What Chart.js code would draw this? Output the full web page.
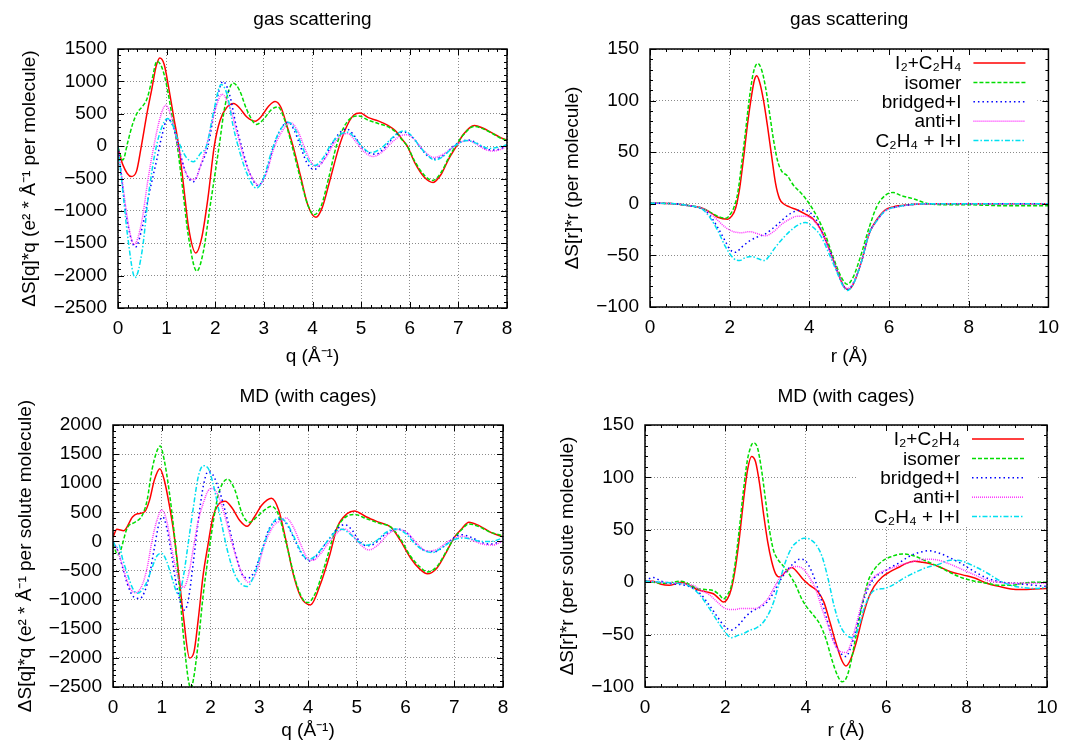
<!DOCTYPE html>
<html>
<head>
<meta charset="utf-8">
<script src="https://cdn.jsdelivr.net/npm/chart.js@4.4.1/dist/chart.umd.min.js"></script>
<style>
  body { margin: 0; background: #fff; }
  #wrap { position: relative; width: 1068px; height: 744px; }
  canvas { position: absolute; }
</style>
</head>
<body>
<div id="wrap">
  <canvas id="gas-q" width="534" height="372" style="left:0;top:0"></canvas>
  <canvas id="gas-r" width="534" height="372" style="left:534px;top:0"></canvas>
  <canvas id="md-q" width="534" height="372" style="left:0;top:372px"></canvas>
  <canvas id="md-r" width="534" height="372" style="left:534px;top:372px"></canvas>
</div>
<script>
// series names (legend order)
const seriesLabels = ["I₂+C₂H₄", "isomer", "bridged+I", "anti+I", "C₂H₄ + I+I"];

// tick labels
const qTicks = [0, 1, 2, 3, 4, 5, 6, 7, 8];
const rTicks = [0, 2, 4, 6, 8, 10];
const gasQTicks = [-2500, -2000, -1500, -1000, -500, 0, 500, 1000, 1500];
const mdQTicks = [-2500, -2000, -1500, -1000, -500, 0, 500, 1000, 1500, 2000];
const rValueTicks = [-100, -50, 0, 50, 100, 150];

// gas scattering, q space: [q, ΔS*q]
const gasQ_i2c2h4 = [[0,-30],[0.1,-290],[0.27,-470],[0.38,-390],[0.48,0],[0.6,520],[0.7,900],[0.78,1220],[0.86,1360],[0.95,1260],[1.05,870],[1.15,430],[1.25,0],[1.35,-620],[1.45,-1250],[1.6,-1650],[1.72,-1420],[1.85,-800],[1.98,0],[2.1,400],[2.25,610],[2.38,660],[2.5,590],[2.65,450],[2.82,385],[2.95,460],[3.1,620],[3.23,690],[3.35,600],[3.48,300],[3.6,0],[3.75,-450],[3.9,-900],[4.07,-1100],[4.2,-950],[4.35,-550],[4.55,0],[4.7,300],[4.85,480],[4.98,510],[5.15,440],[5.35,390],[5.55,320],[5.7,240],[5.85,100],[5.95,0],[6.1,-250],[6.3,-480],[6.48,-560],[6.65,-430],[6.8,-200],[6.96,0],[7.1,180],[7.33,320],[7.5,280],[7.7,200],[7.85,140],[8,90]];
const gasQ_isomer = [[0,-20],[0.1,-215],[0.2,60],[0.3,340],[0.4,520],[0.5,610],[0.6,740],[0.7,1030],[0.8,1310],[0.9,1220],[1.0,940],[1.1,520],[1.22,0],[1.32,-600],[1.45,-1400],[1.62,-1930],[1.75,-1650],[1.9,-900],[2.08,0],[2.2,620],[2.37,975],[2.5,860],[2.65,560],[2.85,335],[3.0,420],[3.15,560],[3.29,605],[3.42,420],[3.58,0],[3.75,-500],[3.9,-900],[4.03,-1060],[4.18,-920],[4.33,-500],[4.49,0],[4.65,300],[4.8,440],[4.95,465],[5.15,400],[5.35,350],[5.55,300],[5.7,225],[5.85,90],[5.95,0],[6.1,-230],[6.3,-450],[6.47,-530],[6.65,-400],[6.8,-180],[6.94,0],[7.1,170],[7.32,305],[7.5,270],[7.7,195],[7.85,130],[8,85]];
const gasQ_bridged = [[0,0],[0.1,-650],[0.2,-1200],[0.36,-1560],[0.5,-1250],[0.65,-700],[0.8,-200],[0.9,150],[1.02,420],[1.12,330],[1.24,0],[1.4,-420],[1.55,-550],[1.7,-300],[1.85,0],[2.0,600],[2.16,1000],[2.3,780],[2.42,350],[2.54,0],[2.7,-400],[2.88,-610],[3.05,-400],[3.2,0],[3.35,270],[3.5,370],[3.62,250],[3.75,0],[3.88,-250],[4.03,-360],[4.2,-250],[4.38,0],[4.55,200],[4.7,265],[4.85,170],[5.0,0],[5.15,-100],[5.3,-125],[5.45,-50],[5.6,80],[5.75,190],[5.9,215],[6.05,140],[6.2,0],[6.35,-140],[6.52,-200],[6.7,-140],[6.9,0],[7.05,70],[7.2,95],[7.35,60],[7.55,-40],[7.75,-60],[7.9,-30],[8,5]];
const gasQ_anti = [[0,0],[0.1,-600],[0.2,-1150],[0.33,-1520],[0.48,-1200],[0.62,-500],[0.75,50],[0.87,450],[0.98,630],[1.1,450],[1.25,-50],[1.4,-420],[1.57,-520],[1.72,-250],[1.85,100],[2.0,560],[2.14,800],[2.3,600],[2.45,200],[2.6,-200],[2.75,-480],[2.9,-600],[3.05,-420],[3.2,-50],[3.35,200],[3.55,360],[3.7,230],[3.85,-50],[4.0,-280],[4.1,-310],[4.25,-200],[4.45,50],[4.6,170],[4.72,195],[4.9,60],[5.05,-80],[5.25,-160],[5.45,-80],[5.65,70],[5.85,170],[5.95,175],[6.1,100],[6.3,-80],[6.5,-175],[6.7,-120],[6.9,-10],[7.05,60],[7.2,85],[7.35,40],[7.55,-50],[7.7,-75],[7.9,-40],[8,10]];
const gasQ_c2h4ii = [[0,0],[0.1,-700],[0.2,-1400],[0.35,-2030],[0.5,-1600],[0.62,-800],[0.75,-150],[0.88,250],[1.02,425],[1.12,330],[1.25,60],[1.4,-170],[1.55,-240],[1.7,-110],[1.82,0],[1.97,550],[2.12,950],[2.25,780],[2.37,300],[2.47,0],[2.65,-420],[2.85,-650],[3.0,-480],[3.15,-100],[3.3,200],[3.5,370],[3.65,250],[3.8,-30],[3.95,-260],[4.05,-300],[4.2,-200],[4.4,50],[4.55,170],[4.72,215],[4.9,100],[5.05,-30],[5.2,-100],[5.4,-40],[5.6,100],[5.75,200],[5.88,235],[6.05,150],[6.2,0],[6.35,-130],[6.52,-215],[6.7,-150],[6.9,-10],[7.05,60],[7.18,85],[7.35,50],[7.55,-20],[7.65,-35],[7.85,-10],[8,20]];

// gas scattering, r space: [r, ΔS*r]
const gasR_i2c2h4 = [[0,0.5],[0.5,0.3],[1.0,-2],[1.3,-4],[1.5,-8],[1.7,-13],[1.95,-15],[2.05,-12],[2.15,-4],[2.25,15],[2.35,45],[2.45,78],[2.55,105],[2.62,120],[2.68,124],[2.75,118],[2.85,100],[2.95,75],[3.05,47],[3.15,20],[3.25,5],[3.35,0],[3.5,-3],[3.7,-6],[3.9,-10],[4.1,-15],[4.3,-26],[4.5,-44],[4.7,-65],[4.85,-79],[4.97,-83],[5.1,-78],[5.3,-57],[5.5,-29],[5.7,-15],[5.9,-6],[6.1,-3],[6.5,-1],[7,0],[8,0],[9,0],[10,0]];
const gasR_isomer = [[0,0.5],[0.5,0.3],[1.0,-2],[1.3,-4],[1.5,-8],[1.7,-12],[1.9,-14],[2.0,-11],[2.1,-4],[2.2,10],[2.3,39],[2.4,71],[2.5,104],[2.6,128],[2.7,136],[2.8,130],[2.9,113],[3.0,88],[3.1,62],[3.2,42],[3.3,32],[3.45,27],[3.6,18],[3.8,10],[4.0,0],[4.2,-13],[4.4,-30],[4.6,-52],[4.8,-71],[4.95,-78],[5.1,-71],[5.3,-49],[5.5,-23],[5.7,-2],[5.9,8],[6.1,11],[6.3,8],[6.6,5],[7.0,0],[7.5,-1],[8,-1],[9,-2],[10,-2]];
const gasR_bridged = [[0,0.5],[0.5,0.3],[1.0,-2],[1.3,-5],[1.5,-11],[1.7,-23],[1.9,-37],[2.0,-44],[2.15,-47],[2.3,-42],[2.5,-36],[2.7,-32],[2.9,-29],[3.2,-20],[3.5,-10],[3.8,-6],[4.0,-8],[4.15,-14],[4.3,-26],[4.5,-44],[4.7,-65],[4.85,-79],[4.95,-83],[5.1,-77],[5.3,-57],[5.5,-29],[5.7,-16],[5.9,-7],[6.2,-3],[7,0],[8,0],[10,0]];
const gasR_anti = [[0,0.5],[0.5,0.3],[1.0,-2],[1.3,-4],[1.5,-9],[1.7,-16],[1.9,-23],[2.1,-27],[2.3,-28],[2.5,-27],[2.7,-29],[2.9,-31],[3.1,-27],[3.3,-20],[3.5,-15],[3.7,-12],[3.9,-12],[4.1,-16],[4.3,-27],[4.5,-45],[4.7,-65],[4.85,-79],[4.95,-82],[5.1,-77],[5.3,-57],[5.5,-29],[5.7,-16],[5.9,-7],[6.2,-3],[7,0],[8,0],[10,0]];
const gasR_c2h4ii = [[0,0.5],[0.5,0.3],[1.0,-2],[1.3,-5],[1.5,-13],[1.7,-26],[1.9,-42],[2.1,-53],[2.25,-55],[2.4,-52],[2.55,-51],[2.7,-53],[2.88,-55],[3.0,-50],[3.15,-42],[3.3,-35],[3.5,-27],[3.7,-21],[3.9,-18],[4.1,-23],[4.3,-32],[4.5,-49],[4.7,-67],[4.85,-80],[4.95,-84],[5.1,-78],[5.3,-57],[5.5,-29],[5.7,-16],[5.9,-7],[6.2,-3],[7,0],[8,0],[10,0]];

// MD with cages, q space
const mdQ_i2c2h4 = [[0,70],[0.08,210],[0.22,185],[0.4,420],[0.5,475],[0.65,510],[0.75,710],[0.85,1060],[0.96,1250],[1.05,1060],[1.15,650],[1.25,130],[1.35,-570],[1.45,-1330],[1.57,-2000],[1.66,-1900],[1.75,-1330],[1.85,-570],[1.95,-50],[2.05,420],[2.15,620],[2.3,690],[2.45,565],[2.6,360],[2.75,260],[2.9,420],[3.05,620],[3.25,740],[3.4,535],[3.55,10],[3.7,-570],[3.85,-950],[4.05,-1090],[4.25,-745],[4.45,-220],[4.6,245],[4.8,475],[4.95,525],[5.2,420],[5.45,330],[5.7,245],[5.9,10],[6.1,-280],[6.3,-480],[6.45,-555],[6.65,-450],[6.85,-165],[7.0,70],[7.15,215],[7.3,330],[7.5,275],[7.75,155],[8,80]];
const mdQ_isomer = [[0,-40],[0.1,-230],[0.3,245],[0.45,330],[0.6,450],[0.7,710],[0.8,1230],[0.9,1550],[0.97,1640],[1.05,1400],[1.15,880],[1.25,185],[1.35,-690],[1.45,-1670],[1.55,-2400],[1.6,-2520],[1.65,-2370],[1.75,-1730],[1.85,-920],[1.95,-280],[2.05,300],[2.15,770],[2.25,1000],[2.35,1070],[2.5,885],[2.65,475],[2.8,330],[2.95,420],[3.1,535],[3.25,605],[3.4,450],[3.55,-20],[3.75,-690],[3.9,-1000],[4.0,-1050],[4.15,-890],[4.35,-395],[4.55,155],[4.75,405],[4.95,465],[5.2,390],[5.45,315],[5.7,245],[5.9,40],[6.1,-250],[6.3,-440],[6.45,-525],[6.65,-425],[6.85,-150],[7.0,60],[7.15,200],[7.3,300],[7.5,255],[7.75,155],[8,100]];
const mdQ_bridged = [[0,0],[0.1,-165],[0.2,-455],[0.3,-745],[0.42,-950],[0.55,-980],[0.65,-860],[0.75,-570],[0.85,-105],[0.95,330],[1.02,420],[1.1,245],[1.2,-220],[1.3,-745],[1.4,-1090],[1.47,-1180],[1.55,-980],[1.65,-340],[1.75,360],[1.85,940],[1.95,1200],[2.05,1145],[2.2,825],[2.35,360],[2.5,-165],[2.65,-570],[2.78,-630],[2.9,-510],[3.05,-165],[3.2,215],[3.35,360],[3.45,390],[3.6,245],[3.75,-15],[3.9,-250],[4.05,-335],[4.2,-220],[4.4,10],[4.6,215],[4.75,290],[4.9,200],[5.05,10],[5.2,-75],[5.35,-45],[5.55,100],[5.75,200],[5.88,210],[6.05,130],[6.25,-75],[6.45,-170],[6.6,-175],[6.8,-75],[7.0,70],[7.15,115],[7.35,70],[7.55,-15],[7.75,-45],[8,10]];
const mdQ_anti = [[0,0],[0.1,-170],[0.2,-430],[0.3,-700],[0.4,-860],[0.47,-880],[0.6,-745],[0.7,-455],[0.8,10],[0.9,360],[1.0,540],[1.1,360],[1.2,-105],[1.3,-510],[1.4,-745],[1.45,-790],[1.55,-570],[1.65,-105],[1.75,360],[1.85,650],[1.95,870],[2.05,910],[2.15,800],[2.3,420],[2.45,-50],[2.6,-455],[2.78,-700],[2.95,-510],[3.1,-75],[3.3,275],[3.45,360],[3.55,405],[3.7,245],[3.85,-50],[4.0,-300],[4.1,-325],[4.25,-220],[4.45,10],[4.65,185],[4.75,215],[4.95,70],[5.1,-75],[5.25,-145],[5.45,-50],[5.65,130],[5.85,205],[6.05,140],[6.25,-50],[6.45,-165],[6.65,-135],[6.85,-15],[7.05,70],[7.2,85],[7.4,10],[7.6,-50],[7.8,-60],[8,10]];
const mdQ_c2h4ii = [[0,0],[0.08,-105],[0.12,-60],[0.2,-310],[0.3,-570],[0.4,-800],[0.5,-890],[0.6,-830],[0.7,-685],[0.8,-455],[0.9,-250],[1.0,-205],[1.1,-340],[1.2,-600],[1.3,-860],[1.35,-920],[1.45,-570],[1.55,10],[1.65,595],[1.75,1115],[1.85,1300],[1.95,1260],[2.05,1000],[2.2,420],[2.35,-165],[2.5,-570],[2.65,-745],[2.75,-775],[2.9,-570],[3.05,-165],[3.25,275],[3.4,405],[3.55,330],[3.7,100],[3.85,-165],[4.0,-310],[4.15,-250],[4.35,-45],[4.55,155],[4.7,210],[4.9,100],[5.05,-15],[5.2,-65],[5.4,10],[5.6,155],[5.8,215],[6.0,140],[6.2,-45],[6.4,-165],[6.55,-190],[6.75,-105],[6.95,10],[7.15,60],[7.35,40],[7.55,0],[7.75,0],[8,60]];

// MD with cages, r space
const mdR_i2c2h4 = [[0,1],[0.2,1],[0.4,-2],[0.6,-3],[0.8,-1],[0.9,0],[1.1,-3],[1.3,-7],[1.5,-9],[1.7,-11],[1.85,-16],[1.95,-19],[2.05,-16],[2.15,-6],[2.25,14],[2.35,43],[2.45,78],[2.55,107],[2.65,120],[2.75,115],[2.85,94],[2.95,65],[3.05,39],[3.15,20],[3.25,8],[3.35,5],[3.5,10],[3.65,14],[3.8,9],[3.95,2],[4.1,-3],[4.3,-9],[4.45,-19],[4.6,-38],[4.75,-58],[4.9,-75],[5.0,-80],[5.1,-75],[5.25,-58],[5.4,-35],[5.55,-16],[5.7,-4],[5.9,5],[6.1,10],[6.3,14],[6.5,18],[6.7,20],[6.9,19],[7.1,17.5],[7.3,15],[7.6,10],[7.9,7],[8.2,4],[8.5,-1],[8.8,-4],[9.1,-6.5],[9.4,-7],[9.7,-6.5],[10,-6]];
const mdR_isomer = [[0,1],[0.5,-1],[0.9,1],[1.1,-2],[1.3,-6],[1.5,-7],[1.7,-8],[1.85,-12],[1.95,-16],[2.05,-12],[2.15,-3],[2.25,20],[2.35,52],[2.45,88],[2.55,117],[2.65,131],[2.7,133],[2.8,128],[2.9,107],[3.0,78],[3.1,49],[3.2,30],[3.3,22],[3.45,15],[3.6,7],[3.75,-3],[3.9,-16],[4.05,-25],[4.2,-32],[4.35,-40],[4.5,-54],[4.65,-74],[4.8,-90],[4.9,-95],[5.0,-92],[5.1,-80],[5.25,-51],[5.4,-22],[5.55,1],[5.7,12],[5.9,20],[6.1,24],[6.4,27],[6.7,25],[7.0,20],[7.3,15],[7.6,9],[7.9,4],[8.2,1],[8.5,-1],[8.8,-3],[9.1,-3],[9.4,-1],[9.7,0],[10,0]];
const mdR_bridged = [[0,1],[0.2,4.5],[0.4,1],[0.6,-1],[0.8,-2],[1.0,-3],[1.2,-6],[1.4,-12],[1.6,-22],[1.8,-33],[2.0,-43],[2.15,-45.5],[2.35,-40],[2.5,-33],[2.65,-28],[2.8,-25],[2.95,-22],[3.1,-16],[3.25,-6],[3.4,4],[3.55,12],[3.7,18],[3.85,22],[4.0,20],[4.15,10],[4.3,-6],[4.45,-25],[4.6,-45],[4.75,-61],[4.9,-69],[5.0,-71],[5.1,-64],[5.25,-45],[5.4,-22],[5.55,-6],[5.7,4],[5.9,9],[6.1,14],[6.3,18],[6.5,23],[6.7,27],[6.9,29],[7.05,30],[7.3,28],[7.6,23],[7.9,17],[8.2,10],[8.5,4],[8.8,0.6],[9.1,-1],[9.4,-2],[9.7,-3],[10,-4]];
const mdR_anti = [[0,1],[0.4,0],[0.8,-1],[1.0,-2],[1.2,-3],[1.4,-8],[1.6,-12],[1.8,-19],[1.95,-24],[2.1,-26],[2.25,-26],[2.4,-25],[2.55,-25],[2.75,-25],[2.9,-22],[3.05,-16],[3.2,-6],[3.35,4],[3.5,10],[3.65,14],[3.8,15],[3.95,12],[4.1,4],[4.25,-7],[4.4,-25],[4.55,-41],[4.7,-58],[4.85,-66],[5.0,-67],[5.1,-61],[5.25,-41],[5.4,-19],[5.55,-3],[5.7,5],[5.9,10],[6.1,13],[6.4,17],[6.7,20],[7.0,22],[7.3,21],[7.6,17],[7.9,12],[8.2,7],[8.5,2],[8.8,0],[9.1,-1],[9.4,-1],[9.7,-1],[10,-1]];
const mdR_c2h4ii = [[0,1],[0.4,0],[0.8,-1],[1.0,-2],[1.2,-6],[1.4,-14],[1.6,-25],[1.8,-37],[2.0,-48],[2.15,-53],[2.3,-51],[2.45,-49],[2.6,-46],[2.75,-44],[2.9,-40],[3.05,-32],[3.2,-19],[3.35,1],[3.5,20],[3.65,33],[3.8,39],[3.95,42],[4.1,41],[4.25,36],[4.4,25],[4.55,4],[4.7,-22],[4.85,-41],[5.0,-50],[5.15,-53],[5.3,-45],[5.45,-25],[5.6,-12],[5.75,-7],[5.95,-6],[6.15,-3],[6.4,3],[6.7,9],[7.0,14],[7.3,17],[7.6,21],[7.9,20],[8.2,15],[8.5,9],[8.8,2],[9.1,-3],[9.4,-5],[9.7,-6],[10,-5]];

const FONT = '"Liberation Sans", Arial, Helvetica, sans-serif';
const FONT_SIZE = 19;
Chart.defaults.font.family = FONT;
Chart.defaults.font.size = FONT_SIZE;
Chart.defaults.color = '#000';

// gnuplot-like line types
const seriesStyles = [
  { color: '#ff0000', dash: [] },
  { color: '#00dd00', dash: [4, 2] },
  { color: '#0000ff', dash: [1.5, 3] },
  { color: '#ff33ff', dash: [1, 1] },
  { color: '#00e0f0', dash: [5, 2, 1.5, 2] }
];

// inward major/minor tics on all four sides, then the frame
const frameTicks = {
  id: 'frameTicks',
  afterDraw(chart) {
    const { ctx, chartArea: a } = chart;
    ctx.save();
    ctx.strokeStyle = '#000';
    ctx.lineWidth = 1;
    ['x', 'y'].forEach(id => {
      const s = chart.scales[id];
      const minor = (s.ticks[1].value - s.ticks[0].value) / 5;
      const n = Math.round((s.max - s.min) / minor);
      for (let i = 0; i <= n; i++) {
        const len = i % 5 === 0 ? 6 : 3;
        const p = Math.round(s.getPixelForValue(s.min + i * minor)) + 0.5;
        ctx.beginPath();
        if (id === 'x') {
          ctx.moveTo(p, a.bottom); ctx.lineTo(p, a.bottom - len);
          ctx.moveTo(p, a.top); ctx.lineTo(p, a.top + len);
        } else {
          ctx.moveTo(a.left, p); ctx.lineTo(a.left + len, p);
          ctx.moveTo(a.right, p); ctx.lineTo(a.right - len, p);
        }
        ctx.stroke();
      }
    });
    ctx.lineWidth = 1.5;
    ctx.strokeRect(a.left, a.top, a.right - a.left, a.bottom - a.top);
    ctx.restore();
  }
};

// gnuplot style key: text right-aligned, line sample on its right
const keyBox = {
  id: 'keyBox',
  beforeDatasetsDraw(chart, args, opts) {
    if (!opts.show) return;
    const { ctx, chartArea: a } = chart;
    ctx.save();
    ctx.fillStyle = '#fff';
    ctx.fillRect(a.right - 190, a.top + 3, 179, 99);
    ctx.font = FONT_SIZE + 'px ' + FONT;
    ctx.textAlign = 'right';
    ctx.textBaseline = 'middle';
    chart.data.datasets.forEach((ds, i) => {
      const y = a.top + 14 + i * 19.4;
      ctx.fillStyle = '#000';
      ctx.fillText(ds.label, a.right - 87, y + 1);
      ctx.strokeStyle = ds.borderColor;
      ctx.lineWidth = ds.borderWidth;
      ctx.setLineDash(ds.borderDash);
      ctx.beginPath();
      ctx.moveTo(a.right - 75, y);
      ctx.lineTo(a.right - 23, y);
      ctx.stroke();
    });
    ctx.restore();
  }
};

function tickText(v) {
  return v < 0 ? '\u2212' + Math.abs(v) : String(v);
}

function makePanel(id, cfg) {
  const canvas = document.getElementById(id);
  const W = canvas.width, H = canvas.height;
  const half = FONT_SIZE * 1.2 / 2;
  const a = cfg.area;
  return new Chart(canvas, {
    type: 'line',
    data: {
      datasets: cfg.series.map((pts, i) => ({
        label: seriesLabels[i],
        data: pts.map(p => ({ x: p[0], y: p[1] })),
        borderColor: seriesStyles[i].color,
        borderDash: seriesStyles[i].dash,
        borderWidth: 1.5,
        pointRadius: 0,
        fill: false,
        cubicInterpolationMode: 'monotone',
        order: cfg.series.length - i
      }))
    },
    options: {
      responsive: false,
      animation: false,
      events: [],
      layout: { padding: { left: 0, right: W - a.right, top: 0, bottom: 0 } },
      plugins: {
        legend: { display: false },
        tooltip: { enabled: false },
        title: {
          display: true,
          text: cfg.title,
          fullSize: false,
          color: '#000',
          font: { size: FONT_SIZE, weight: 'normal' },
          padding: { top: cfg.titleY - half, bottom: a.top - cfg.titleY - half }
        },
        keyBox: { show: cfg.key }
      },
      scales: {
        x: {
          type: 'linear',
          min: cfg.xTicks[0],
          max: cfg.xTicks[cfg.xTicks.length - 1],
          afterBuildTicks: s => { s.ticks = cfg.xTicks.map(v => ({ value: v })); },
          afterFit: s => { s.height = H - a.bottom; },
          ticks: { padding: 9, maxRotation: 0, autoSkip: false, callback: tickText },
          grid: { drawTicks: false, color: '#8a8a8a', lineWidth: 1 },
          border: { display: false, dash: [1, 2] },
          title: {
            display: true,
            text: cfg.xTitle,
            padding: { top: H - cfg.xTitleY - half, bottom: H - cfg.xTitleY - half }
          }
        },
        y: {
          type: 'linear',
          min: cfg.yTicks[0],
          max: cfg.yTicks[cfg.yTicks.length - 1],
          afterBuildTicks: s => { s.ticks = cfg.yTicks.map(v => ({ value: v })); },
          afterFit: s => { s.width = a.left; },
          ticks: { padding: 11, autoSkip: false, callback: tickText },
          grid: { drawTicks: false, color: '#8a8a8a', lineWidth: 1 },
          border: { display: false, dash: [1, 2] },
          title: {
            display: true,
            text: cfg.yTitle,
            padding: { top: cfg.yTitleX - half, bottom: cfg.yTitleX - half }
          }
        }
      }
    },
    plugins: [frameTicks, keyBox]
  });
}

makePanel('gas-q', {
  title: 'gas scattering',
  xTitle: 'q (Å⁻¹)',
  yTitle: 'ΔS[q]*q (e² * Å⁻¹ per molecule)',
  xTicks: qTicks, yTicks: gasQTicks,
  series: [gasQ_i2c2h4, gasQ_isomer, gasQ_bridged, gasQ_anti, gasQ_c2h4ii],
  area: { left: 118, top: 49, right: 507, bottom: 308 },
  titleY: 20, xTitleY: 357, yTitleX: 30, key: false
});

makePanel('gas-r', {
  title: 'gas scattering',
  xTitle: 'r (Å)',
  yTitle: 'ΔS[r]*r (per molecule)',
  xTicks: rTicks, yTicks: rValueTicks,
  series: [gasR_i2c2h4, gasR_isomer, gasR_bridged, gasR_anti, gasR_c2h4ii],
  area: { left: 116, top: 49, right: 518, bottom: 307 },
  titleY: 20, xTitleY: 357, yTitleX: 39, key: true
});

makePanel('md-q', {
  title: 'MD (with cages)',
  xTitle: 'q (Å⁻¹)',
  yTitle: 'ΔS[q]*q (e² * Å⁻¹ per solute molecule)',
  xTicks: qTicks, yTicks: mdQTicks,
  series: [mdQ_i2c2h4, mdQ_isomer, mdQ_bridged, mdQ_anti, mdQ_c2h4ii],
  area: { left: 113, top: 53, right: 503, bottom: 315 },
  titleY: 24.5, xTitleY: 359, yTitleX: 25.5, key: false
});

makePanel('md-r', {
  title: 'MD (with cages)',
  xTitle: 'r (Å)',
  yTitle: 'ΔS[r]*r (per solute molecule)',
  xTicks: rTicks, yTicks: rValueTicks,
  series: [mdR_i2c2h4, mdR_isomer, mdR_bridged, mdR_anti, mdR_c2h4ii],
  area: { left: 111, top: 53, right: 513, bottom: 315 },
  titleY: 24.5, xTitleY: 359, yTitleX: 34, key: true
});
</script>
</body>
</html>
